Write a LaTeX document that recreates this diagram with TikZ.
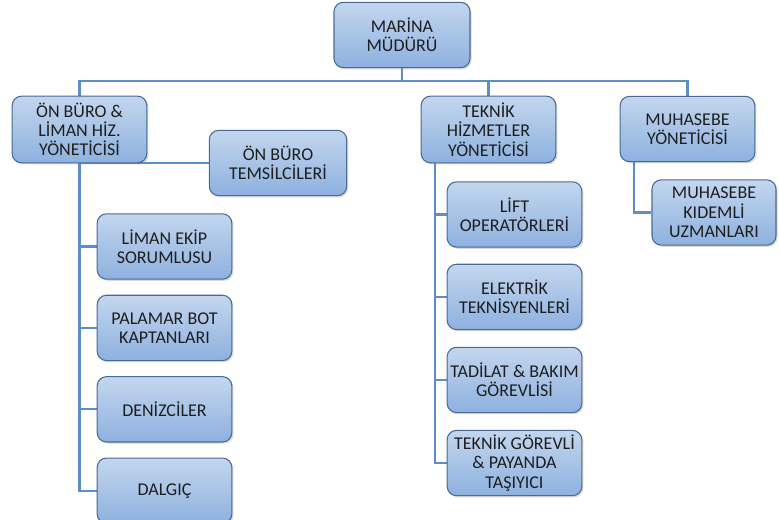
\documentclass[tikz,border=0pt]{standalone}
\usepackage{fontspec}
\setmainfont{Carlito}
\usetikzlibrary{positioning, shadows, backgrounds}
\definecolor{boxtop}{HTML}{C3D6EE}
\definecolor{boxbot}{HTML}{8DB1DF}
\definecolor{boxline}{HTML}{4A6A94}
\definecolor{wirecol}{HTML}{5E8DC8}
\definecolor{ink}{HTML}{1E1E1E}

\begin{document}
\begin{tikzpicture}[x=0.75pt, y=-0.75pt, font=\fontsize{13.5}{14.5}\selectfont,
    unit/.style={draw=boxline, line width=0.8pt, rounded corners=7pt,
        top color=boxtop, bottom color=boxbot, text=ink, align=center,
        minimum width=101pt, minimum height=49pt, inner sep=1pt,
        drop shadow={opacity=0.3, shadow xshift=1.2pt, shadow yshift=-1.2pt}},
    wire/.style={draw=wirecol, line width=1.6pt}]
    \useasboundingbox (0,0) rectangle (779,519);

    % top level
    \node (mudur) [unit, minimum width=102pt] at (402,35) {MARİNA\\MÜDÜRÜ};

    % front office branch
    \node (onburo) [unit, minimum height=50pt] at (79.5,129.5) {ÖN BÜRO \&\\LİMAN HİZ.\\YÖNETİCİSİ};
    \node (temsilci) [unit, minimum width=103pt] at (278,163) {ÖN BÜRO\\TEMSİLCİLERİ};
    \node (liman) [unit] at (164.5,246.5) {LİMAN EKİP\\SORUMLUSU};
    \node (palamar) [unit, below=11.25pt of liman] {PALAMAR BOT\\KAPTANLARI};
    \node (denizci) [unit, below=11.25pt of palamar] {DENİZCİLER};
    \node (dalgic) [unit, below=11.25pt of denizci] {DALGIÇ};

    % technical branch
    \node (teknik) [unit, minimum height=50pt] at (488.5,129.5) {TEKNİK\\HİZMETLER\\YÖNETİCİSİ};
    \node (lift) [unit] at (514.5,214.5) {LİFT\\OPERATÖRLERİ};
    \node (elektrik) [unit, below=12pt of lift] {ELEKTRİK\\TEKNİSYENLERİ};
    \node (tadilat) [unit, below=12.5pt of elektrik] {TADİLAT \& BAKIM\\GÖREVLİSİ};
    \node (payanda) [unit, below=12.5pt of tadilat] {TEKNİK GÖREVLİ\\\& PAYANDA\\TAŞIYICI};

    % accounting branch
    \node (muhasebe) [unit] at (687.5,129) {MUHASEBE\\YÖNETİCİSİ};
    \node (kidemli) [unit, minimum width=93pt] at (714,212.5) {MUHASEBE\\KIDEMLİ\\UZMANLARI};

    \begin{scope}[on background layer]
        \coordinate (bus) at (402,81);
        \draw [wire] (mudur.south) -- (bus);
        \foreach \n in {onburo, teknik, muhasebe}
            \draw [wire] (bus) -| (\n.north);
        \foreach \n in {temsilci, liman, palamar, denizci, dalgic}
            \draw [wire] (onburo.south) |- (\n.west);
        \coordinate (ttrunk) at ([xshift=10.5pt]teknik.south west);
        \foreach \n in {lift, elektrik, tadilat, payanda}
            \draw [wire] (ttrunk) |- (\n.west);
        \draw [wire] ([xshift=11pt]muhasebe.south west) |- (kidemli.west);
    \end{scope}
\end{tikzpicture}
\end{document}
